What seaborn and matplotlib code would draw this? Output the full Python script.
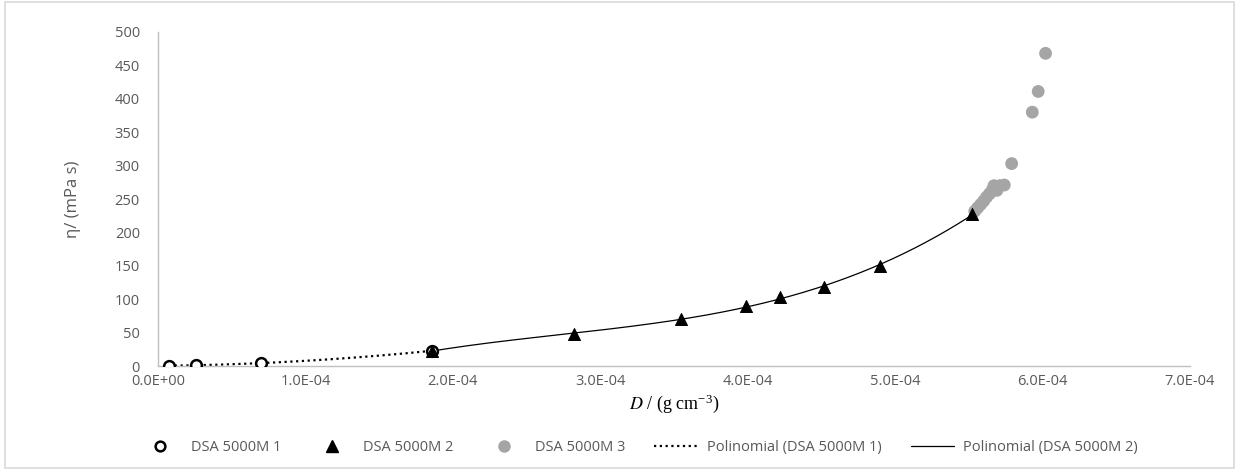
import numpy as np
import pandas as pd
import matplotlib
matplotlib.use("Agg")
import matplotlib.pyplot as plt
from matplotlib.lines import Line2D
from matplotlib.patches import Rectangle
import seaborn as sns

# DSA 5000M 1 (open circles)
d1_x = [0.075e-4, 0.26e-4, 0.70e-4, 1.86e-4]
d1_y = [0.5, 1.5, 4.5, 23.0]

# DSA 5000M 2 (triangles)
d2_x = [1.86e-4, 2.82e-4, 3.55e-4, 3.99e-4, 4.22e-4, 4.52e-4, 4.90e-4, 5.52e-4]
d2_y = [23.0, 48.0, 70.0, 90.0, 103.0, 119.0, 150.0, 227.0]

# DSA 5000M 3 (grey circles)
d3_x = [5.54e-4, 5.56e-4, 5.58e-4, 5.60e-4, 5.62e-4, 5.64e-4, 5.66e-4, 5.67e-4,
        5.69e-4, 5.71e-4, 5.74e-4, 5.79e-4, 5.93e-4, 5.97e-4, 6.02e-4]
d3_y = [232.0, 237.0, 242.0, 247.0, 253.0, 258.0, 264.0, 270.0,
        263.0, 270.0, 271.0, 303.0, 380.0, 411.0, 468.0]

x_ticks = [0, 1e-4, 2e-4, 3e-4, 4e-4, 5e-4, 6e-4, 7e-4]
x_tick_labels = ["0.0E+00", "1.0E-04", "2.0E-04", "3.0E-04",
                 "4.0E-04", "5.0E-04", "6.0E-04", "7.0E-04"]
y_ticks = [0, 50, 100, 150, 200, 250, 300, 350, 400, 450, 500]

labels = ["DSA 5000M 1", "DSA 5000M 2", "DSA 5000M 3",
          "Polinomial (DSA 5000M 1)", "Polinomial (DSA 5000M 2)"]


# polynomial trendlines, like Excel does (fit on scaled x)
def poly_trend(xs, ys, order):
    xs = np.array(xs) * 1e4
    coef = np.polyfit(xs, ys, order)
    grid = np.linspace(xs.min(), xs.max(), 200)
    return pd.DataFrame({"x": grid / 1e4, "y": np.polyval(coef, grid)})


fit1 = poly_trend(d1_x, d1_y, 2)
fit2 = poly_trend(d2_x, d2_y, 3)

sns.set_style("white")
plt.rcParams["font.family"] = ["Open Sans", "DejaVu Sans"]
plt.rcParams["mathtext.fontset"] = "stix"

grey_txt = "#595959"
axis_col = "#bfbfbf"

fig = plt.figure(figsize=(12.39, 4.70), dpi=100)
ax = fig.add_axes([0.1275, 0.221, 0.833, 0.711])

sns.lineplot(data=fit1, x="x", y="y", ax=ax, color="black", lw=1.6,
             linestyle=(0, (1, 1.6)), zorder=2)
sns.lineplot(data=fit2, x="x", y="y", ax=ax, color="black", lw=0.9, zorder=2)

sns.scatterplot(x=d3_x, y=d3_y, ax=ax, color="#a5a5a5", s=85,
                edgecolor="none", marker="o", zorder=3)
sns.scatterplot(x=d1_x, y=d1_y, ax=ax, facecolor="white", edgecolor="black",
                s=60, linewidth=1.8, marker="o", zorder=4)
sns.scatterplot(x=d2_x, y=d2_y, ax=ax, color="black", s=75,
                edgecolor="black", marker="^", zorder=5)

ax.set_xlim(0, 7e-4)
ax.set_ylim(0, 500)
ax.set_xticks(x_ticks)
ax.set_xticklabels(x_tick_labels)
ax.set_yticks(y_ticks)
ax.tick_params(axis="both", length=0, labelsize=10.5, colors=grey_txt, pad=6)
ax.tick_params(axis="y", pad=13)

for side in ["top", "right"]:
    ax.spines[side].set_visible(False)
for side in ["left", "bottom"]:
    ax.spines[side].set_color(axis_col)
    ax.spines[side].set_linewidth(1.0)

ax.set_xlabel(r"$D$ / (g cm$^{\mathregular{-3}}$)", family="Liberation Serif",
              fontsize=13, color="black", labelpad=2)
ax.set_ylabel("η/ (mPa s)", fontsize=12, color=grey_txt, labelpad=24)

handles = [
    Line2D([], [], ls="none", marker="o", mfc="white", mec="black", mew=1.8, ms=7),
    Line2D([], [], ls="none", marker="^", color="black", ms=8),
    Line2D([], [], ls="none", marker="o", color="#a5a5a5", ms=8),
    Line2D([], [], color="black", lw=1.6, linestyle=(0, (1, 1.6))),
    Line2D([], [], color="black", lw=0.9),
]
fig.legend(handles, labels, loc="center", bbox_to_anchor=(0.515, 0.047), ncol=5,
           frameon=False, fontsize=10.5, labelcolor=grey_txt, handlelength=3.0,
           columnspacing=2.0, handletextpad=0.6)

fig.patches.append(Rectangle((0.004, 0.004), 0.992, 0.992, transform=fig.transFigure,
                             fill=False, edgecolor="#d9d9d9", lw=1.2))

fig.savefig("out.png", dpi=100)
